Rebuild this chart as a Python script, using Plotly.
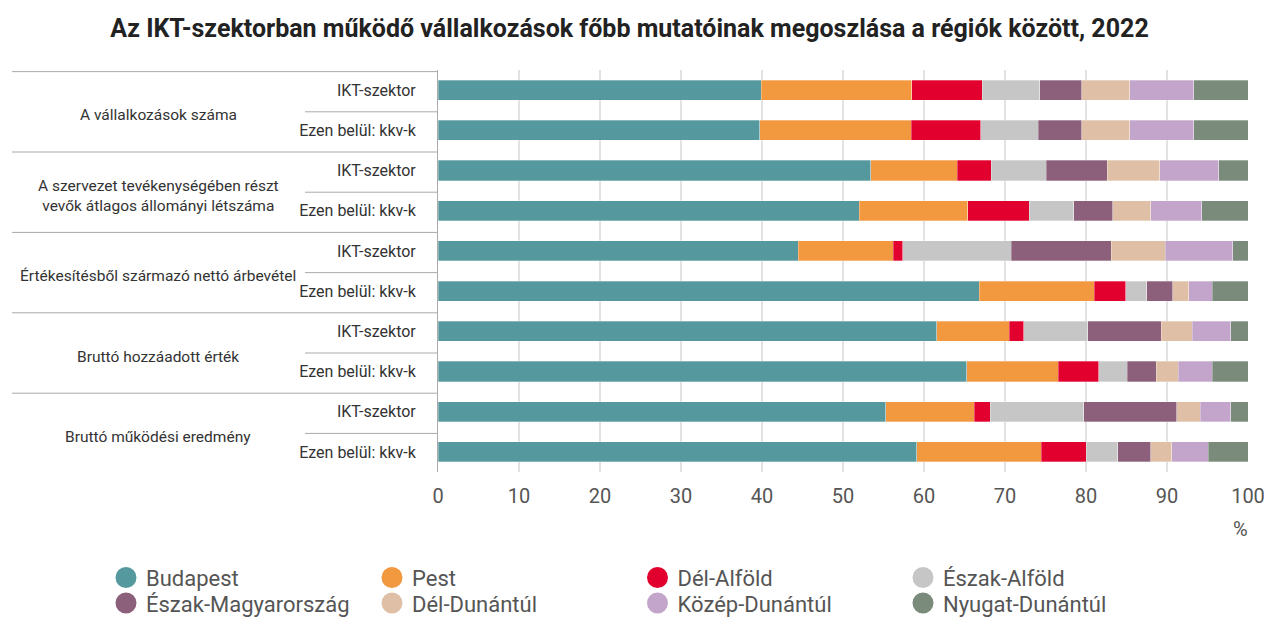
import plotly.graph_objects as go

title = "Az IKT-szektorban működő vállalkozások főbb mutatóinak megoszlása a régiók között, 2022"

groups = [
    "A vállalkozások száma",
    "A szervezet tevékenységében részt<br>vevők átlagos állományi létszáma",
    "Értékesítésből származó nettó árbevétel",
    "Bruttó hozzáadott érték",
    "Bruttó működési eredmény",
]
subcats = ["IKT-szektor", "Ezen belül: kkv-k"] * 5

regions = ["Budapest", "Pest", "Dél-Alföld", "Észak-Alföld",
           "Észak-Magyarország", "Dél-Dunántúl", "Közép-Dunántúl", "Nyugat-Dunántúl"]
colors = ["#55999e", "#f2983f", "#e2002e", "#c6c6c6",
          "#8c5f7a", "#dfc0a6", "#c3a5cb", "#7b8b7b"]

budapest = [39.9, 39.7, 53.4, 52.0, 44.5, 66.8, 61.6, 65.3, 55.3, 59.1]
pest = [18.6, 18.7, 10.7, 13.4, 11.7, 14.2, 8.9, 11.3, 10.9, 15.4]
del_alfold = [8.7, 8.6, 4.2, 7.6, 1.2, 3.9, 1.8, 5.0, 2.0, 5.5]
eszak_alfold = [7.1, 7.1, 6.8, 5.5, 13.4, 2.6, 7.9, 3.5, 11.5, 3.9]
eszak_magyarorszag = [5.2, 5.4, 7.5, 4.8, 12.3, 3.2, 9.1, 3.6, 11.5, 4.1]
del_dunantul = [5.9, 5.9, 6.5, 4.7, 6.7, 2.0, 3.8, 2.7, 2.9, 2.6]
kozep_dunantul = [7.9, 7.9, 7.3, 6.3, 8.3, 2.9, 4.8, 4.2, 3.8, 4.5]
nyugat_dunantul = [6.7, 6.7, 3.6, 5.7, 1.9, 4.4, 2.1, 4.4, 2.1, 4.9]

series = [budapest, pest, del_alfold, eszak_alfold,
          eszak_magyarorszag, del_dunantul, kozep_dunantul, nyugat_dunantul]

xticks = list(range(0, 101, 10))

ypos = list(range(len(subcats)))

W, H = 1267, 617
ML, MR, MT, MB = 438, 19, 70, 145
PW = W - ML - MR

FONT = "Roboto"
LINE = "#aaaaaa"

# legend layout (pixel positions of the legend symbols, 4 columns x 2 rows)
leg_cx = [126, 392, 657.5, 923]
leg_cy = [577.5, 603]
LEG_FS = 22

fig = go.Figure()
for name, col, vals in zip(regions, colors, series):
    fig.add_trace(go.Bar(
        x=vals, y=ypos, orientation="h", name=name,
        marker=dict(color=col, line=dict(color="rgba(255,255,255,0.6)", width=0.5)),
        width=0.5, showlegend=False,
    ))

legend_layouts = {}
for i, (name, col) in enumerate(zip(regions, colors)):
    lid = "legend" if i == 0 else f"legend{i + 1}"
    fig.add_trace(go.Scatter(
        x=[None], y=[None], mode="markers", name=name,
        marker=dict(color=col, size=16, symbol="circle", line=dict(color=col, width=5)),
        showlegend=True, legend=lid,
    ))
    r, c = divmod(i, 4)
    item_h = LEG_FS * 1.3 + 3
    legend_layouts[lid] = dict(
        xref="container", yref="container",
        x=(leg_cx[c] - 20) / W, xanchor="left",
        y=1 - (leg_cy[r] - 5 - item_h / 2) / H, yanchor="top",
        orientation="v", borderwidth=0, bgcolor="rgba(0,0,0,0)",
        font=dict(family=FONT, size=LEG_FS, color="#555555"),
        itemsizing="trace",
    )

shapes = []
n_groups = len(groups)
tbl_left = (12 - ML) / PW
sub_left = (305 - ML) / PW
LINE_SHIFT = 0.04
for g in range(n_groups + 1):
    yb = g * 2 - 0.5 + LINE_SHIFT
    shapes.append(dict(type="line", xref="paper", yref="y",
                       x0=tbl_left, x1=0, y0=yb, y1=yb,
                       line=dict(color=LINE, width=1)))
for g in range(n_groups):
    yb = g * 2 + 0.5 + LINE_SHIFT
    shapes.append(dict(type="line", xref="paper", yref="y",
                       x0=sub_left, x1=0, y0=yb, y1=yb,
                       line=dict(color=LINE, width=1)))

annotations = []
for g, lab in enumerate(groups):
    annotations.append(dict(
        text=lab, xref="paper", yref="y", x=(158 - ML) / PW, y=g * 2 + 0.63,
        xanchor="center", yanchor="middle", showarrow=False,
        font=dict(family=FONT, size=15.5, color="#333333"), align="center",
    ))
annotations.append(dict(
    text="%", xref="paper", yref="paper", x=(1240 - ML) / PW, y=-(529 - (H - MB)) / (H - MT - MB),
    xanchor="center", yanchor="middle", showarrow=False,
    font=dict(family=FONT, size=20, color="#555555"),
))

fig.update_layout(
    width=W, height=H,
    margin=dict(l=ML, r=MR, t=MT, b=MB, autoexpand=False),
    paper_bgcolor="white", plot_bgcolor="white",
    barmode="stack",
    title=dict(text=f"<b>{title}</b>", x=629.5 / W, xref="container", xanchor="center",
               y=1 - 28 / H, yref="container", yanchor="middle",
               font=dict(family=FONT, size=25, color="#222222")),
    font=dict(family=FONT, color="#333333"),
    xaxis=dict(range=[0, 100], tickvals=xticks, ticktext=[str(v) for v in xticks],
               showgrid=True, gridcolor="#e2e2e2", gridwidth=1.5,
               zeroline=False, showline=False,
               tickfont=dict(family=FONT, size=20, color="#555555"),
               ticklabelstandoff=10, fixedrange=True),
    yaxis=dict(range=[len(subcats) - 0.5, -0.5], tickvals=ypos, ticktext=subcats,
               showgrid=False, zeroline=False, showline=True, linecolor=LINE, linewidth=1,
               tickfont=dict(family=FONT, size=16, color="#333333"),
               ticklabelstandoff=18, fixedrange=True),
    shapes=shapes,
    annotations=annotations,
    showlegend=True,
    **legend_layouts,
)

fig.write_html("out.html", config={"displayModeBar": False},
               post_script="document.body.style.margin='0';")
